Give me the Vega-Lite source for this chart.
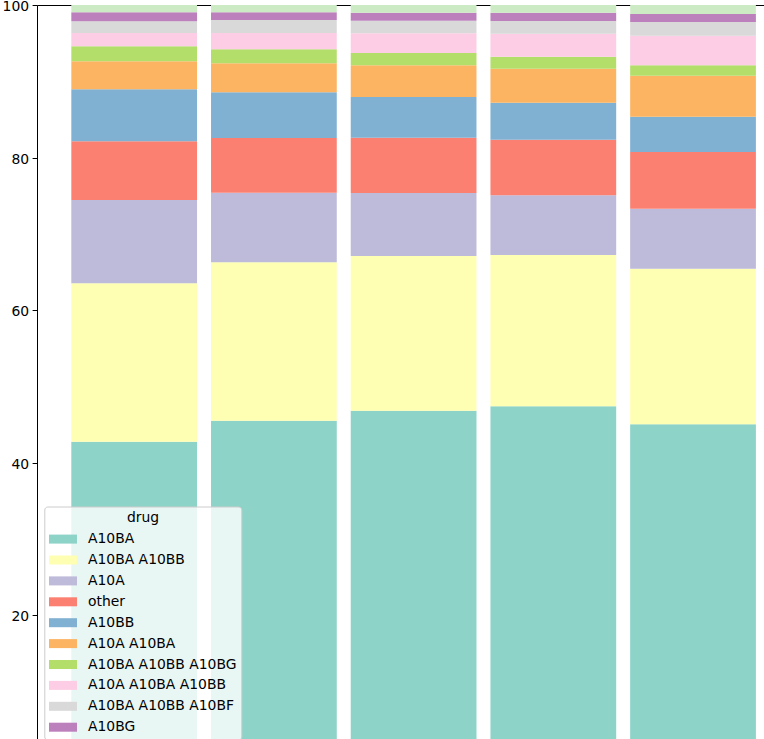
{
  "$schema": "https://vega.github.io/schema/vega-lite/v6.json",
  "width": 727,
  "height": 734,
  "autosize": {"type": "none"},
  "padding": {"left": 37, "top": 5, "right": 0, "bottom": 0},
  "background": "white",
  "config": {"view": {"stroke": null}},
  "data": {
    "values": [
      {"g": 1, "k": 1, "drug": "A10BA", "pct": 42.74},
      {"g": 1, "k": 2, "drug": "A10BA A10BB", "pct": 20.77},
      {"g": 1, "k": 3, "drug": "A10A", "pct": 10.92},
      {"g": 1, "k": 4, "drug": "other", "pct": 7.70},
      {"g": 1, "k": 5, "drug": "A10BB", "pct": 6.82},
      {"g": 1, "k": 6, "drug": "A10A A10BA", "pct": 3.67},
      {"g": 1, "k": 7, "drug": "A10BA A10BB A10BG", "pct": 1.96},
      {"g": 1, "k": 8, "drug": "A10A A10BA A10BB", "pct": 1.75},
      {"g": 1, "k": 9, "drug": "A10BA A10BB A10BF", "pct": 1.53},
      {"g": 1, "k": 10, "drug": "A10BG", "pct": 1.18},
      {"g": 1, "k": 11, "drug": "rest", "pct": 0.96},
      {"g": 2, "k": 1, "drug": "A10BA", "pct": 45.49},
      {"g": 2, "k": 2, "drug": "A10BA A10BB", "pct": 20.77},
      {"g": 2, "k": 3, "drug": "A10A", "pct": 9.13},
      {"g": 2, "k": 4, "drug": "other", "pct": 7.17},
      {"g": 2, "k": 5, "drug": "A10BB", "pct": 5.99},
      {"g": 2, "k": 6, "drug": "A10A A10BA", "pct": 3.81},
      {"g": 2, "k": 7, "drug": "A10BA A10BB A10BG", "pct": 1.83},
      {"g": 2, "k": 8, "drug": "A10A A10BA A10BB", "pct": 2.14},
      {"g": 2, "k": 9, "drug": "A10BA A10BB A10BF", "pct": 1.70},
      {"g": 2, "k": 10, "drug": "A10BG", "pct": 1.01},
      {"g": 2, "k": 11, "drug": "rest", "pct": 0.96},
      {"g": 3, "k": 1, "drug": "A10BA", "pct": 46.80},
      {"g": 3, "k": 2, "drug": "A10BA A10BB", "pct": 20.29},
      {"g": 3, "k": 3, "drug": "A10A", "pct": 8.26},
      {"g": 3, "k": 4, "drug": "other", "pct": 7.25},
      {"g": 3, "k": 5, "drug": "A10BB", "pct": 5.34},
      {"g": 3, "k": 6, "drug": "A10A A10BA", "pct": 4.15},
      {"g": 3, "k": 7, "drug": "A10BA A10BB A10BG", "pct": 1.62},
      {"g": 3, "k": 8, "drug": "A10A A10BA A10BB", "pct": 2.58},
      {"g": 3, "k": 9, "drug": "A10BA A10BB A10BF", "pct": 1.65},
      {"g": 3, "k": 10, "drug": "A10BG", "pct": 1.05},
      {"g": 3, "k": 11, "drug": "rest", "pct": 1.01},
      {"g": 4, "k": 1, "drug": "A10BA", "pct": 47.38},
      {"g": 4, "k": 2, "drug": "A10BA A10BB", "pct": 19.84},
      {"g": 4, "k": 3, "drug": "A10A", "pct": 7.83},
      {"g": 4, "k": 4, "drug": "other", "pct": 7.29},
      {"g": 4, "k": 5, "drug": "A10BB", "pct": 4.85},
      {"g": 4, "k": 6, "drug": "A10A A10BA", "pct": 4.46},
      {"g": 4, "k": 7, "drug": "A10BA A10BB A10BG", "pct": 1.57},
      {"g": 4, "k": 8, "drug": "A10A A10BA A10BB", "pct": 3.02},
      {"g": 4, "k": 9, "drug": "A10BA A10BB A10BF", "pct": 1.66},
      {"g": 4, "k": 10, "drug": "A10BG", "pct": 1.09},
      {"g": 4, "k": 11, "drug": "rest", "pct": 1.01},
      {"g": 5, "k": 1, "drug": "A10BA", "pct": 45.02},
      {"g": 5, "k": 2, "drug": "A10BA A10BB", "pct": 20.40},
      {"g": 5, "k": 3, "drug": "A10A", "pct": 7.87},
      {"g": 5, "k": 4, "drug": "other", "pct": 7.43},
      {"g": 5, "k": 5, "drug": "A10BB", "pct": 4.63},
      {"g": 5, "k": 6, "drug": "A10A A10BA", "pct": 5.38},
      {"g": 5, "k": 7, "drug": "A10BA A10BB A10BG", "pct": 1.36},
      {"g": 5, "k": 8, "drug": "A10A A10BA A10BB", "pct": 3.88},
      {"g": 5, "k": 9, "drug": "A10BA A10BB A10BF", "pct": 1.80},
      {"g": 5, "k": 10, "drug": "A10BG", "pct": 1.05},
      {"g": 5, "k": 11, "drug": "rest", "pct": 1.18}
    ]
  },
  "mark": {"type": "bar", "clip": true},
  "encoding": {
    "x": {
      "field": "g",
      "type": "ordinal",
      "scale": {"paddingInner": 0.1, "paddingOuter": 0.1518, "align": 0.809},
      "axis": {"orient": "top", "domain": true, "domainColor": "black", "domainWidth": 1, "ticks": false, "labels": false, "title": null, "grid": false}
    },
    "y": {
      "field": "pct",
      "type": "quantitative",
      "stack": "zero",
      "scale": {"domain": [3.75, 100], "nice": false, "zero": false},
      "axis": {"values": [20, 40, 60, 80, 100], "title": null, "grid": false, "domainColor": "black", "domainWidth": 1, "tickColor": "black", "tickWidth": 1, "tickSize": 4.9, "labelPadding": 3.5, "labelFont": "DejaVu Sans", "labelFontSize": 13.9, "labelColor": "black", "labelOffset": 1.5}
    },
    "order": {"field": "k", "type": "quantitative", "sort": "ascending"},
    "color": {
      "field": "drug",
      "type": "nominal",
      "scale": {
        "domain": ["A10BA", "A10BA A10BB", "A10A", "other", "A10BB", "A10A A10BA", "A10BA A10BB A10BG", "A10A A10BA A10BB", "A10BA A10BB A10BF", "A10BG", "rest"],
        "range": ["#8dd3c7", "#ffffb3", "#bebada", "#fb8072", "#80b1d3", "#fdb462", "#b3de69", "#fccde5", "#d9d9d9", "#bc80bd", "#ccebc5"]
      },
      "legend": {
        "title": "drug",
        "orient": "none",
        "legendX": 7.3,
        "legendY": 501.5,
        "values": ["A10BA", "A10BA A10BB", "A10A", "other", "A10BB", "A10A A10BA", "A10BA A10BB A10BG", "A10A A10BA A10BB", "A10BA A10BB A10BF", "A10BG"],
        "symbolType": "M-1,-0.643H3V0.643H-1Z",
        "symbolSize": 196,
        "symbolStrokeWidth": 0,
        "symbolOpacity": 1,
        "labelOffset": 25,
        "labelFont": "DejaVu Sans",
        "labelFontSize": 13.9,
        "labelColor": "black",
        "labelLimit": 300,
        "titleFont": "DejaVu Sans",
        "titleFontSize": 13.9,
        "titleFontWeight": "normal",
        "titleColor": "black",
        "titleAnchor": "middle",
        "titlePadding": 7,
        "rowPadding": 6.9,
        "padding": 4.7,
        "fillColor": "rgba(255,255,255,0.8)",
        "strokeColor": "#cccccc",
        "cornerRadius": 3
      }
    }
  }
}
